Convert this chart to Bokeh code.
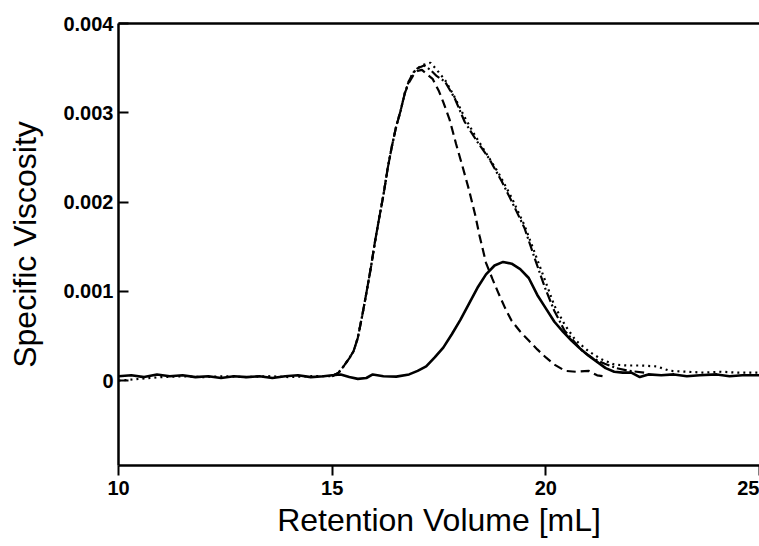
from bokeh.plotting import figure
from bokeh.models import FixedTicker, LinearAxis, Range1d, CustomJSTickFormatter
from bokeh.embed import file_html
from bokeh.resources import INLINE

# ---- data (Retention Volume [mL], Specific Viscosity) ----
solid_x = [10.0, 10.3, 10.6, 10.9, 11.2, 11.5, 11.8, 12.1, 12.4, 12.7, 13.0, 13.3, 13.6, 13.9,
           14.2, 14.5, 14.8, 15.0, 15.2, 15.4, 15.6, 15.8, 15.95, 16.2, 16.5, 16.8, 17.0, 17.2,
           17.4, 17.6, 17.8, 18.0, 18.2, 18.4, 18.6, 18.8, 19.0, 19.2, 19.4, 19.6, 19.8, 20.0,
           20.2, 20.4, 20.6, 20.8, 21.0, 21.2, 21.4, 21.6, 21.8, 22.0, 22.2, 22.4, 22.7, 23.0,
           23.3, 23.6, 24.0, 24.3, 24.6, 25.0]
solid_y = [0.00005, 0.00006, 0.00004, 0.00007, 0.00005, 0.00006, 0.00004, 0.00005, 0.00003,
           0.00005, 0.00004, 0.00005, 0.00003, 0.00005, 0.00006, 0.00004, 0.00005, 0.00006,
           0.00007, 0.00004, 0.00002, 0.00003, 0.00007, 0.00005, 0.000045, 0.00007, 0.00011,
           0.00016, 0.00026, 0.00037, 0.00052, 0.00068, 0.00086, 0.00104, 0.00119, 0.00129,
           0.00133, 0.00131, 0.00125, 0.00115, 0.00096, 0.00081, 0.00066, 0.00055, 0.00045,
           0.00036, 0.00028, 0.00021, 0.00014, 0.00010, 0.00009, 0.00009, 0.00004, 0.00007,
           0.00006, 0.00007, 0.00005, 0.00006, 0.00007, 0.00005, 0.00006, 0.00006]

dashed_x = [15.0, 15.15, 15.25, 15.4, 15.5, 15.6, 15.7, 15.8, 15.9, 16.0, 16.1, 16.2, 16.3, 16.4,
            16.5, 16.6, 16.7, 16.8, 16.9, 17.0, 17.1, 17.2, 17.35, 17.5, 17.6, 17.75, 17.9,
            18.05, 18.2, 18.35, 18.45, 18.6, 18.75, 18.9, 19.05, 19.2, 19.4, 19.6, 19.8, 20.0,
            20.2, 20.45, 20.7, 21.0, 21.2, 21.35]
dashed_y = [0.00005, 0.00009, 0.00015, 0.00025, 0.00033, 0.00048, 0.00072, 0.00098, 0.00125,
            0.00155, 0.00182, 0.00208, 0.00238, 0.00263, 0.00285, 0.00302, 0.00322, 0.00334,
            0.00342, 0.00347, 0.00348, 0.00344, 0.00338, 0.00324, 0.00312, 0.00292, 0.00265,
            0.00240, 0.00214, 0.00185, 0.00162, 0.00132, 0.00114, 0.00097, 0.00081, 0.00067,
            0.00055, 0.00045, 0.00035, 0.00026, 0.00018, 0.00011, 0.00010, 0.00011, 0.00006,
            0.00005]

dashdot_x = [15.0, 15.15, 15.25, 15.4, 15.5, 15.6, 15.7, 15.8, 15.9, 16.0, 16.1, 16.2, 16.3,
             16.4, 16.5, 16.6, 16.7, 16.8, 16.9, 17.0, 17.15, 17.3, 17.45, 17.64, 17.87, 18.1,
             18.39, 18.67, 18.97, 19.2, 19.5, 19.74, 19.98, 20.2, 20.44, 20.84, 21.1, 21.38,
             21.65, 21.94, 22.3]
dashdot_y = [0.00005, 0.00009, 0.00015, 0.00025, 0.00033, 0.00048, 0.00072, 0.00098, 0.00125,
             0.00155, 0.00182, 0.00208, 0.00238, 0.00263, 0.00285, 0.00302, 0.00322, 0.00336,
             0.00345, 0.00350, 0.00353, 0.00348, 0.00341, 0.00335, 0.00316, 0.00290, 0.00268,
             0.00249, 0.00223, 0.00201, 0.00171, 0.00137, 0.00104, 0.00078, 0.00056, 0.00034,
             0.00025, 0.00019, 0.00014, 0.00011, 0.00009]

dotted_x = [10.0, 10.5, 11.0, 11.5, 12.0, 12.5, 13.0, 13.5, 14.0, 14.5, 15.0, 15.15, 15.25,
            15.4, 15.5, 15.6, 15.7, 15.8, 15.9, 16.0, 16.1, 16.2, 16.3, 16.4, 16.5, 16.6, 16.7,
            16.8, 16.9, 17.0, 17.15, 17.3, 17.45, 17.65, 17.85, 18.1, 18.35, 18.6, 18.9, 19.2,
            19.5, 19.75, 20.0, 20.2, 20.45, 20.7, 21.0, 21.3, 21.6, 21.9, 22.2, 22.6, 22.9,
            23.3, 23.7, 24.1, 24.5, 25.0]
dotted_y = [0.0, 0.00002, 0.00004, 0.00005, 0.00004, 0.00005, 0.00004, 0.00005, 0.00004,
            0.00005, 0.00005, 0.00009, 0.00015, 0.00025, 0.00033, 0.00048, 0.00072, 0.00098,
            0.00125, 0.00155, 0.00182, 0.00208, 0.00238, 0.00263, 0.00285, 0.00302, 0.00322,
            0.00336, 0.00345, 0.00350, 0.00354, 0.00356, 0.00348, 0.00336, 0.00319, 0.00295,
            0.00274, 0.00255, 0.00232, 0.00205, 0.00174, 0.00142, 0.00110, 0.00084, 0.00062,
            0.00045, 0.00033, 0.00024, 0.00018, 0.00017, 0.00017, 0.00016, 0.00011, 0.00010,
            0.00009, 0.00010, 0.00009, 0.00009]

x_ticks = [10, 15, 20, 25]
y_ticks = [0, 0.001, 0.002, 0.003, 0.004]
x_title = "Retention Volume [mL]"
y_title = "Specific Viscosity"

p = figure(width=759, height=546, x_range=Range1d(10, 25), y_range=Range1d(-0.00095, 0.004),
           output_backend="svg", toolbar_location=None,
           min_border_left=118, min_border_right=0, min_border_top=23, min_border_bottom=81)
p.outline_line_color = None
p.grid.visible = False
p.background_fill_color = "white"
p.border_fill_color = "white"

p.line(solid_x, solid_y, line_color="black", line_width=2.6)
p.line(dashed_x, dashed_y, line_color="black", line_width=2.2, line_dash="9 5")
p.line(dashdot_x, dashdot_y, line_color="black", line_width=2.2, line_dash="10 3 2 3")
p.line(dotted_x, dotted_y, line_color="black", line_width=2.2, line_dash="2 4")

font = "Liberation Sans"
xa = p.xaxis[0]
xa.ticker = FixedTicker(ticks=x_ticks)
xa.axis_label = x_title
xa.axis_label_text_font = font
xa.axis_label_text_font_size = "32px"
xa.axis_label_text_font_style = "normal"
xa.axis_label_text_color = "black"
xa.axis_label_standoff = 4
xa.major_label_text_font = font
xa.major_label_text_font_size = "20px"
xa.major_label_text_font_style = "bold"
xa.major_label_text_color = "black"
xa.major_label_standoff = 5
xa.major_tick_in = 0
xa.major_tick_out = 10
xa.minor_tick_line_color = None
xa.axis_line_width = 2.5
xa.major_tick_line_width = 2

ya = p.yaxis[0]
ya.ticker = FixedTicker(ticks=y_ticks)
ya.formatter = CustomJSTickFormatter(code="return tick == 0 ? '0' : tick.toFixed(3);")
ya.axis_label = y_title
ya.axis_label_text_font = font
ya.axis_label_text_font_size = "32px"
ya.axis_label_text_font_style = "normal"
ya.axis_label_text_color = "black"
ya.axis_label_standoff = 17
ya.major_label_text_font = font
ya.major_label_text_font_size = "20px"
ya.major_label_text_font_style = "bold"
ya.major_label_text_color = "black"
ya.major_label_standoff = 5
ya.major_tick_in = 10
ya.major_tick_out = 0
ya.minor_tick_line_color = None
ya.axis_line_width = 2.5
ya.major_tick_line_width = 2

top = LinearAxis(ticker=FixedTicker(ticks=[]), axis_line_width=2.5,
                 major_label_text_font_size="0px", major_tick_line_color=None,
                 minor_tick_line_color=None)
p.add_layout(top, "above")

open("out.html", "w").write(file_html(p, INLINE))
